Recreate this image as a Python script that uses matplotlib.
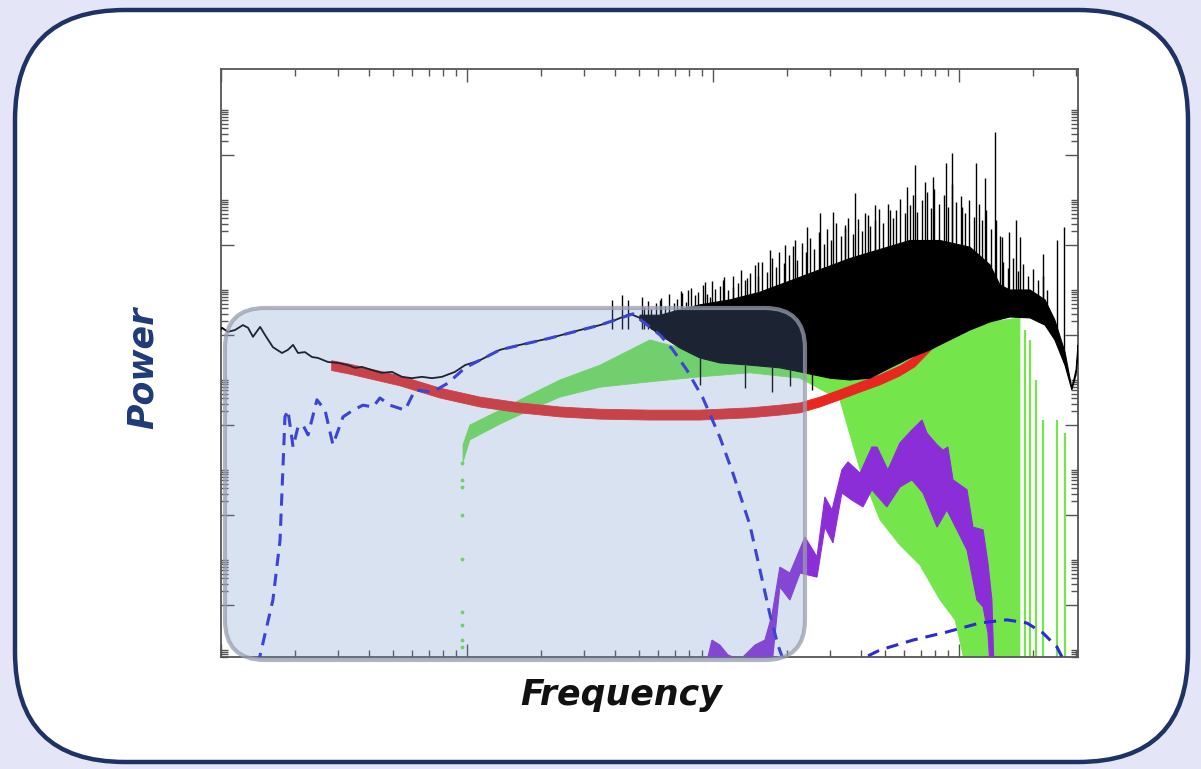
import numpy as np
import matplotlib.pyplot as plt
from matplotlib.patches import FancyBboxPatch
from matplotlib.ticker import FixedLocator, NullFormatter

# values, as log10(frequency) / log10(power), arbitrary units
line_logf = [-1.000, -0.996, -0.972, -0.943, -0.911, -0.890, -0.870, -0.841, -0.821, -0.789, -0.752,
             -0.728, -0.707, -0.687, -0.659, -0.630, -0.606, -0.565, -0.524, -0.484, -0.455, -0.427,
             -0.386, -0.346, -0.305, -0.264, -0.224, -0.183, -0.142, -0.102, -0.049, -0.008, 0.053,
             0.134, 0.215, 0.337, 0.459, 0.541, 0.602, 0.663, 0.703]
line_logp = [6.13, 6.16, 6.07, 6.11, 6.22, 6.16, 5.96, 6.18, 6.00, 5.73, 5.60,
             5.67, 5.78, 5.60, 5.62, 5.51, 5.49, 5.40, 5.38, 5.33, 5.27, 5.29,
             5.22, 5.16, 5.18, 5.07, 5.04, 5.07, 5.04, 5.07, 5.18, 5.33, 5.44,
             5.67, 5.78, 5.93, 6.11, 6.22, 6.33, 6.47, 6.38]

# dense black part of the spectrum: top and bottom edges
mass_hi_f = [0.703, 0.785, 0.866, 0.947, 1.069, 1.191, 1.313, 1.435, 1.557, 1.679, 1.801, 1.923,
             2.045, 2.126, 2.167, 2.207, 2.289, 2.350, 2.390, 2.431, 2.459, 2.476, 2.484]
mass_hi_p = [6.44, 6.44, 6.56, 6.67, 6.78, 6.95, 7.20, 7.45, 7.70, 7.90, 8.10, 8.10,
             7.95, 7.56, 7.11, 7.00, 7.00, 6.78, 6.33, 5.62, 4.82, 5.22, 5.78]
mass_lo_f = [0.703, 0.785, 0.866, 0.947, 1.028, 1.150, 1.272, 1.354, 1.476, 1.557, 1.638, 1.720,
             1.801, 1.882, 1.963, 2.045, 2.126, 2.207, 2.289, 2.350, 2.390, 2.431, 2.459, 2.476, 2.484]
mass_lo_p = [6.33, 6.00, 5.71, 5.49, 5.38, 5.33, 5.27, 5.18, 5.04, 5.00, 5.04, 5.27,
             5.49, 5.67, 5.89, 6.11, 6.29, 6.40, 6.38, 6.22, 5.89, 5.33, 4.78, 5.11, 5.56]

# tall single-bin spikes
spike_logf = [0.589, 0.630, 0.654, 0.711, 0.785, 0.874, 0.898, 0.967, 0.988, 1.041, 1.081, 1.138,
              1.183, 1.232, 1.293, 1.333, 1.382, 1.435, 1.488, 1.537, 1.577, 1.630, 1.659, 1.720,
              1.789, 1.821, 1.862, 1.894, 1.947, 1.972, 2.012, 2.069, 2.106, 2.146, 2.175, 2.203,
              2.232, 2.248, 2.341, 2.398, 2.427]
spike_logp = [6.78, 6.89, 6.78, 6.84, 6.78, 6.93, 7.00, 7.18, 6.84, 7.22, 7.07, 7.27,
              7.62, 7.89, 8.00, 8.11, 8.40, 8.71, 8.73, 8.44, 9.16, 8.67, 8.89, 8.78,
              9.29, 9.78, 9.40, 9.51, 9.82, 10.04, 8.84, 9.82, 9.49, 10.51, 8.18, 8.29,
              8.56, 8.18, 7.80, 8.11, 8.40]
# the shorter hair on top of the dense part
hair_logf = [0.72, 0.735, 0.75, 0.77, 0.79, 0.805, 0.82, 0.84, 0.855, 0.87, 0.89, 0.91, 0.925, 0.94,
             0.96, 0.975, 0.995, 1.01, 1.03, 1.045, 1.06, 1.08, 1.10, 1.115, 1.13, 1.15, 1.17, 1.185,
             1.20, 1.22, 1.24, 1.255, 1.27, 1.29, 1.31, 1.325, 1.34, 1.36, 1.38, 1.395, 1.41, 1.43,
             1.45, 1.465, 1.48, 1.50, 1.52, 1.535, 1.55, 1.57, 1.59, 1.605, 1.62, 1.64, 1.66, 1.675,
             1.69, 1.71, 1.73, 1.745, 1.76, 1.78, 1.80, 1.815, 1.83, 1.85, 1.87, 1.885, 1.90, 1.92,
             1.94, 1.955, 1.97, 1.99, 2.01, 2.025, 2.04, 2.06, 2.08, 2.095, 2.11, 2.13, 2.15, 2.165,
             2.18, 2.20, 2.22, 2.24, 2.26, 2.28, 2.30, 2.32, 2.34, 2.36]
hair_logp = [6.62, 6.75, 6.58, 6.70, 6.82, 6.64, 6.90, 6.71, 6.80, 6.98, 6.74, 7.05, 6.88, 6.96,
             7.12, 6.90, 7.20, 7.02, 7.08, 7.28, 7.00, 7.32, 7.15, 7.45, 7.22, 7.38, 7.55, 7.30,
             7.62, 7.40, 7.70, 7.52, 7.85, 7.60, 7.78, 7.98, 7.66, 8.05, 7.85, 8.15, 7.90, 8.28,
             8.02, 8.35, 8.12, 8.48, 8.20, 8.38, 8.60, 8.25, 8.58, 8.32, 8.70, 8.42, 8.55, 8.80,
             8.48, 8.92, 8.60, 8.78, 9.02, 8.70, 8.88, 9.10, 8.74, 9.00, 9.18, 8.82, 9.25, 8.90,
             9.12, 8.84, 9.35, 8.95, 9.08, 8.70, 9.00, 8.62, 8.90, 8.55, 8.78, 8.35, 8.55, 8.20,
             7.62, 7.48, 7.72, 7.42, 7.58, 7.32, 7.46, 7.22, 7.30, 7.00]
dip_logf = [0.947, 1.130, 1.240, 1.313, 1.402]
dip_logp = [4.89, 4.82, 4.73, 4.87, 4.78]

red_logf = [-0.550, -0.476, -0.272, -0.110, 0.053, 0.215, 0.378, 0.541, 0.744, 0.947, 1.150,
            1.272, 1.354, 1.435, 1.516, 1.598, 1.679, 1.760, 1.820, 1.900]
red_logp = [5.32, 5.24, 4.98, 4.71, 4.51, 4.38, 4.29, 4.24, 4.22, 4.22, 4.27,
            4.33, 4.38, 4.51, 4.67, 4.84, 5.00, 5.20, 5.40, 5.85]
red_spread = 0.11

green_logf = [-0.016, 0.012, 0.134, 0.256, 0.378, 0.541, 0.744, 0.947, 1.150, 1.354, 1.516,
              1.598, 1.679, 1.760, 1.841, 1.923, 1.984, 2.012, 2.028, 2.126, 2.248]
green_hi = [3.56, 4.00, 4.33, 4.67, 5.00, 5.33, 5.89, 5.60, 5.50, 5.30, 5.04,
            5.00, 5.13, 5.36, 5.56, 5.76, 5.93, 6.00, 6.04, 6.29, 6.38]
green_lo = [3.18, 3.67, 4.02, 4.33, 4.62, 4.84, 4.96, 5.07, 5.16, 5.04, 4.56,
            3.00, 1.89, 1.33, 0.89, 0.11, -0.33, -1.00, -1.44, -1.44, -1.44]
green_dot_logp = [3.16, 2.78, 2.62, 2.00, 1.02, -0.16, -0.44, -0.78, -0.93]
green_dot_logf = -0.02
streak_logf = [2.268, 2.289, 2.313, 2.341, 2.398, 2.431]
streak_top = [6.11, 5.89, 5.00, 4.11, 4.11, 3.82]

blue1_logf = [-0.850, -0.789, -0.760, -0.748, -0.740, -0.728, -0.707, -0.687, -0.667, -0.646,
              -0.610, -0.577, -0.545, -0.504, -0.463, -0.423, -0.382, -0.354, -0.313, -0.252,
              -0.211, -0.142, -0.077, -0.008, 0.134, 0.337, 0.541, 0.675, 0.785, 0.837,
              0.894, 0.959, 1.028, 1.081, 1.150, 1.191, 1.232, 1.264, 1.293]
blue1_logp = [-1.33, 0.11, 1.44, 3.07, 4.18, 4.33, 3.51, 3.96, 4.00, 3.78,
              4.56, 4.33, 3.56, 4.18, 4.33, 4.44, 4.40, 4.60, 4.44, 4.33,
              4.78, 4.73, 4.93, 5.27, 5.67, 5.93, 6.22, 6.47, 6.00, 5.67,
              5.22, 4.60, 3.73, 2.93, 1.78, 0.78, -0.22, -0.89, -1.33]
blue2_logf = [1.557, 1.679, 1.813, 1.951, 2.085, 2.195, 2.276, 2.341, 2.398, 2.435]
blue2_logp = [-1.33, -1.00, -0.78, -0.60, -0.40, -0.33, -0.40, -0.62, -0.93, -1.33]

purple_hi_f = [0.972, 0.996, 1.028, 1.061, 1.110, 1.171, 1.211, 1.240, 1.272, 1.313, 1.374, 1.423,
               1.455, 1.484, 1.524, 1.549, 1.598, 1.646, 1.667, 1.711, 1.760, 1.809, 1.850, 1.870,
               1.911, 1.935, 1.955, 1.976, 2.033, 2.057, 2.098, 2.118, 2.134, 2.142]
purple_hi_p = [-1.33, -0.78, -0.89, -1.11, -1.22, -0.89, -0.78, -0.22, 0.84, 0.71, 1.51, 1.07,
               2.40, 2.11, 3.00, 3.18, 2.93, 3.51, 3.51, 3.00, 3.60, 3.89, 4.11, 3.82,
               3.56, 3.44, 3.51, 2.78, 2.56, 1.73, 1.67, 0.93, 0.11, -1.33]
purple_lo_f = [0.972, 1.240, 1.272, 1.313, 1.354, 1.423, 1.455, 1.488, 1.524, 1.565, 1.610, 1.646,
               1.707, 1.760, 1.809, 1.854, 1.911, 1.951, 1.992, 2.033, 2.073, 2.098, 2.118, 2.126]
purple_lo_p = [-1.33, -1.33, 0.40, 0.11, 0.71, 0.62, 1.73, 1.38, 2.49, 2.33, 2.18, 2.56,
               2.18, 2.62, 2.78, 2.49, 1.73, 2.11, 1.67, 1.22, 0.11, -0.04, -0.62, -1.33]


def e(v):
    return 10.0 ** np.asarray(v, dtype=float)


def band(ax, xf_hi, yp_hi, xf_lo, yp_lo, **kw):
    xs = np.r_[xf_hi, xf_lo[::-1]]
    ys = np.r_[yp_hi, yp_lo[::-1]]
    ax.fill(e(xs), e(ys), **kw)


fig = plt.figure(figsize=(12.01, 7.69), dpi=100, facecolor='#e5e5f8')

# white card with navy rounded border
card = FancyBboxPatch((0.15, 0.07), 11.73, 7.52, boxstyle='round,pad=0,rounding_size=1.1',
                      transform=fig.dpi_scale_trans, facecolor='white', edgecolor='#1e3264',
                      linewidth=3.2, zorder=-10)
fig.patches.append(card)

ax = fig.add_axes([221 / 1201, 1 - 657 / 769, 857 / 1201, 588 / 769])
ax.set_facecolor('white')
ax.set_xscale('log')
ax.set_yscale('log')

# green cloud
band(ax, green_logf, green_hi, green_logf, green_lo, color='#74e64c', lw=0.6, zorder=2)
ax.scatter(e([green_dot_logf] * len(green_dot_logp)), e(green_dot_logp), s=3, color='#74e64c', zorder=2)
ax.vlines(e(streak_logf), e(-1.5), e(streak_top), color='#74e64c', lw=1.6, zorder=2)

# red band
red_c = np.asarray(red_logp)
band(ax, red_logf, red_c + red_spread, red_logf, red_c - red_spread,
     facecolor='#e8281e', edgecolor='#e8281e', lw=0.6, zorder=2.5)

# black spectrum
band(ax, mass_hi_f, mass_hi_p, mass_lo_f, mass_lo_p, facecolor='black', edgecolor='black', lw=0.8, zorder=3)
hair_base = np.interp(hair_logf, mass_hi_f, mass_hi_p) - 0.3
ax.vlines(e(hair_logf), e(hair_base), e(hair_logp), color='black', lw=1.0, zorder=3)
base = np.interp(spike_logf, mass_hi_f, mass_hi_p) - 0.3
ax.vlines(e(spike_logf), e(base), e(spike_logp), color='black', lw=1.0, zorder=3)
base_dn = np.interp(dip_logf, mass_lo_f, mass_lo_p)
ax.vlines(e(dip_logf), e(dip_logp), e(base_dn), color='black', lw=1.0, zorder=3)

ax.plot(e(line_logf), e(line_logp), color='black', lw=1.3, zorder=5)

# purple
band(ax, purple_hi_f, purple_hi_p, purple_lo_f, purple_lo_p,
     facecolor='#8c2ed8', edgecolor='#8c2ed8', lw=0.8, zorder=5)

# blue dashed models
ax.plot(e(blue1_logf), e(blue1_logp), color='#2c2ad8', lw=2.2, dashes=(4, 2.6), zorder=6)
ax.plot(e(blue2_logf), e(blue2_logp), color='#2c2ad8', lw=2.2, dashes=(4, 2.6), zorder=6)

ax.set_xlim(e(-1.0), e(2.484))
ax.set_ylim(e(-1.156), e(11.911))

# ticks: x majors each decade, y majors every two decades
x_major = e([-1, 0, 1, 2])
x_minor = [k * 10.0 ** n for n in range(-1, 3) for k in range(2, 10)]
y_major = e([-2, 0, 2, 4, 6, 8, 10, 12])
y_minor = [k * 10.0 ** n for n in range(-2, 13, 2) for k in range(2, 11)]
ax.xaxis.set_major_locator(FixedLocator(x_major))
ax.xaxis.set_minor_locator(FixedLocator(x_minor))
ax.yaxis.set_major_locator(FixedLocator(y_major))
ax.yaxis.set_minor_locator(FixedLocator(y_minor))
for axis in (ax.xaxis, ax.yaxis):
    axis.set_major_formatter(NullFormatter())
    axis.set_minor_formatter(NullFormatter())
ax.tick_params(which='both', direction='in', top=True, right=True, color='#555555', width=1.0)
ax.tick_params(which='major', length=9.5)
ax.tick_params(which='minor', length=5)
for sp in ax.spines.values():
    sp.set_color('#555555')
    sp.set_linewidth(1.3)

# translucent highlight over the low-frequency part
hl = FancyBboxPatch((2.25, 1.09), 5.80, 3.52, boxstyle='round,pad=0,rounding_size=0.4',
                    transform=fig.dpi_scale_trans, facecolor=(0.43, 0.56, 0.80, 0.26),
                    edgecolor=(0.60, 0.62, 0.68, 0.75), linewidth=3.0, zorder=5)
fig.patches.append(hl)

fig.text(143 / 1201, 1 - 368 / 769, 'Power', rotation=90, ha='center', va='center',
         fontsize=25, fontweight='bold', fontstyle='italic', color='#1f3a78', family='DejaVu Sans')
fig.text(621 / 1201, 1 - 695 / 769, 'Frequency', ha='center', va='center',
         fontsize=25, fontweight='bold', fontstyle='italic', color='#111111', family='DejaVu Sans')

fig.savefig('out.png', dpi=100, facecolor=fig.get_facecolor())
